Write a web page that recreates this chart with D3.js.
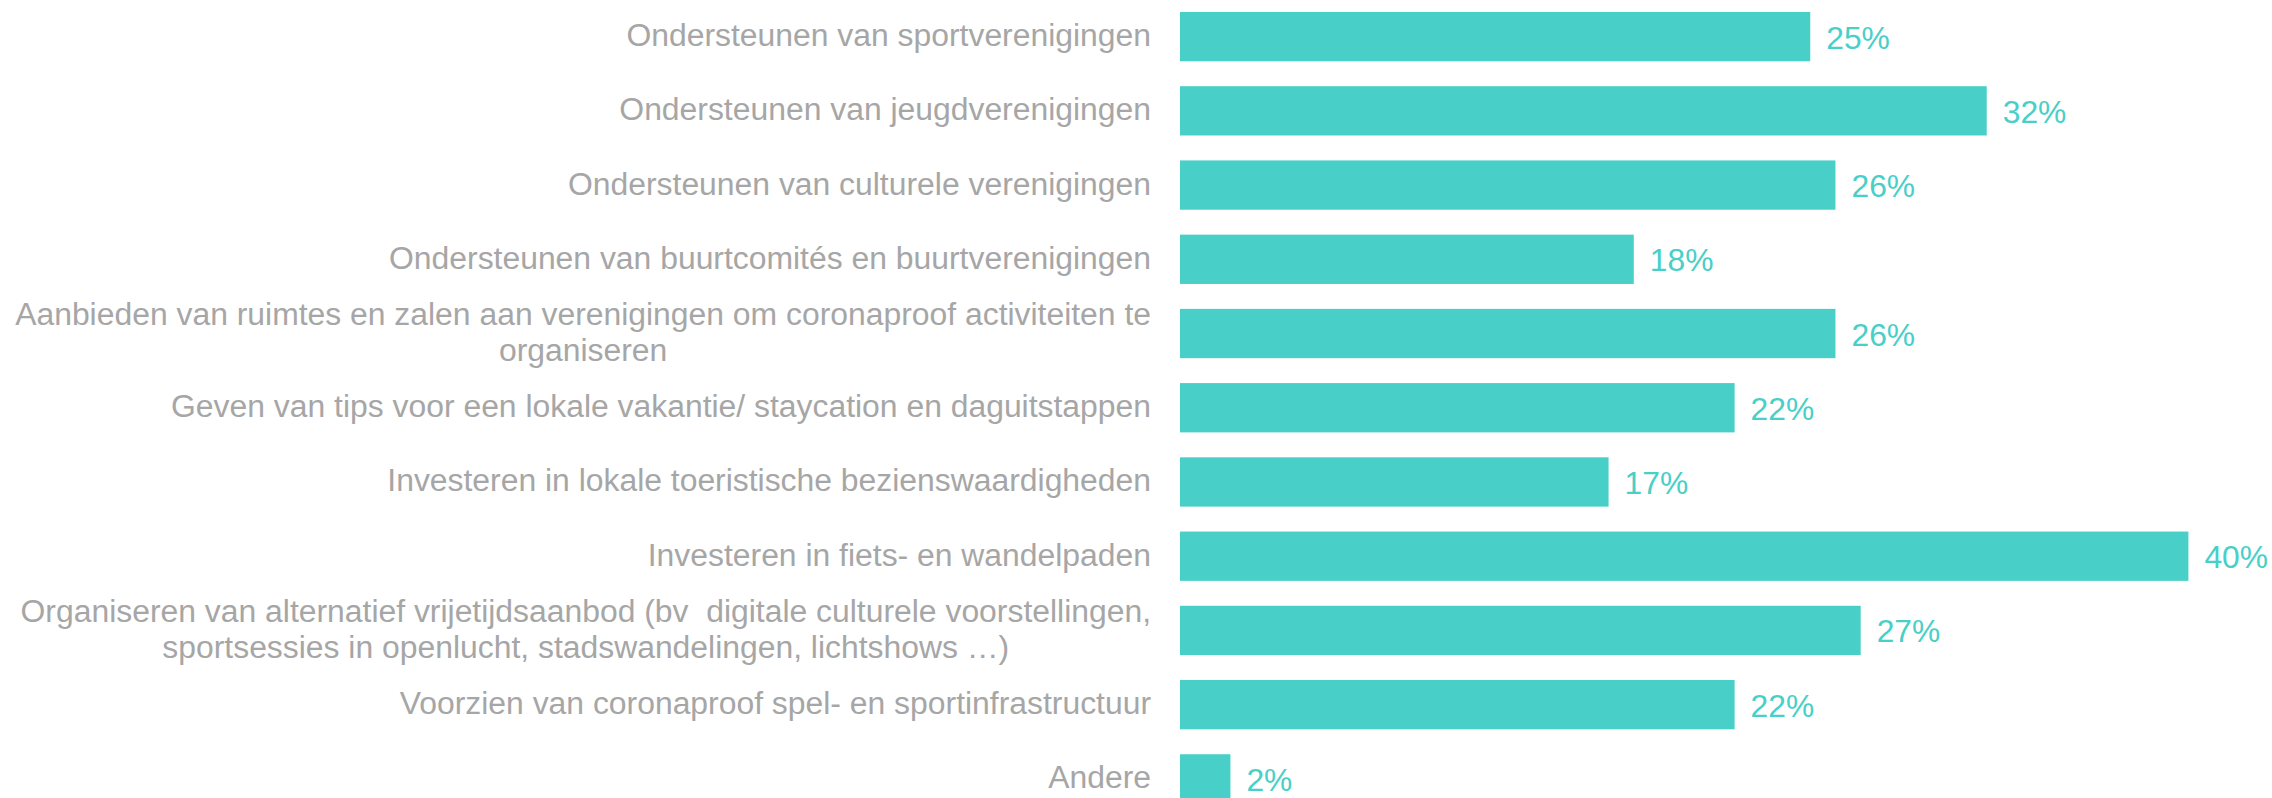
<!DOCTYPE html>
<html lang="nl">
<head>
<meta charset="utf-8">
<title>Ondersteuning verenigingen en vrije tijd</title>
<script src="https://cdn.jsdelivr.net/npm/d3@7"></script>
<style>
  html, body { margin: 0; padding: 0; background: #ffffff; }
  svg { display: block; }
  .cat-label { font-family: "Liberation Sans", Arial, sans-serif; font-size: 31.88px; fill: #A6A6A6; white-space: pre; }
  .val-label { font-family: "Liberation Sans", Arial, sans-serif; font-size: 31.8px; fill: #48CFC8; }
</style>
</head>
<body>
<svg id="chart"></svg>
<script>
// Categories (each entry is a list of lines for the label)
const categories = [
  ["Ondersteunen van sportverenigingen"],
  ["Ondersteunen van jeugdverenigingen"],
  ["Ondersteunen van culturele verenigingen"],
  ["Ondersteunen van buurtcomités en buurtverenigingen"],
  ["Aanbieden van ruimtes en zalen aan verenigingen om coronaproof activiteiten te", "organiseren"],
  ["Geven van tips voor een lokale vakantie/ staycation en daguitstappen"],
  ["Investeren in lokale toeristische bezienswaardigheden"],
  ["Investeren in fiets- en wandelpaden"],
  ["Organiseren van alternatief vrijetijdsaanbod (bv  digitale culturele voorstellingen,", "sportsessies in openlucht, stadswandelingen, lichtshows …)"],
  ["Voorzien van coronaproof spel- en sportinfrastructuur"],
  ["Andere"]
];

// Share of respondents (%)
const values = [25, 32, 26, 18, 26, 22, 17, 40, 27, 22, 2];

const width = 2272, height = 798;
const barLeft = 1180;
const labelRight = 1151;
const lineHeight = 36;

const svg = d3.select("#chart").attr("width", width).attr("height", height);

const rows = categories.map((lines, i) => ({ key: i, lines, value: values[i] }));

const x = d3.scaleLinear().domain([0, 40]).range([barLeft, 2188.4]);
const y = d3.scaleBand()
  .domain(rows.map(d => d.key))
  .range([-0.5, 816])
  .paddingInner(0.336)
  .paddingOuter(0.168);

// Bars
svg.append("g")
  .selectAll("rect")
  .data(rows)
  .join("rect")
  .attr("x", x(0))
  .attr("y", d => y(d.key))
  .attr("width", d => x(d.value) - x(0))
  .attr("height", y.bandwidth())
  .attr("fill", "#48CFC8");

// Value labels
svg.append("g")
  .selectAll("text")
  .data(rows)
  .join("text")
  .attr("class", "val-label")
  .attr("x", d => x(d.value) + 16)
  .attr("y", d => y(d.key) + y.bandwidth() / 2 + 12)
  .text(d => d.value + "%");

// Category labels: right-aligned block, lines centred within the block
const labels = svg.append("g")
  .selectAll("text")
  .data(rows)
  .join("text")
  .attr("class", "cat-label")
  .attr("text-anchor", "middle");

labels.each(function(d) {
  const t = d3.select(this);
  const cy = y(d.key) + y.bandwidth() / 2;
  const n = d.lines.length;
  const spans = t.selectAll("tspan")
    .data(d.lines)
    .join("tspan")
    .attr("y", (l, i) => cy + 9.5 + (i - (n - 1) / 2) * lineHeight)
    .text(l => l);
  let maxW = 0;
  spans.each(function() { maxW = Math.max(maxW, this.getComputedTextLength()); });
  spans.attr("x", labelRight - maxW / 2);
});
</script>
</body>
</html>
